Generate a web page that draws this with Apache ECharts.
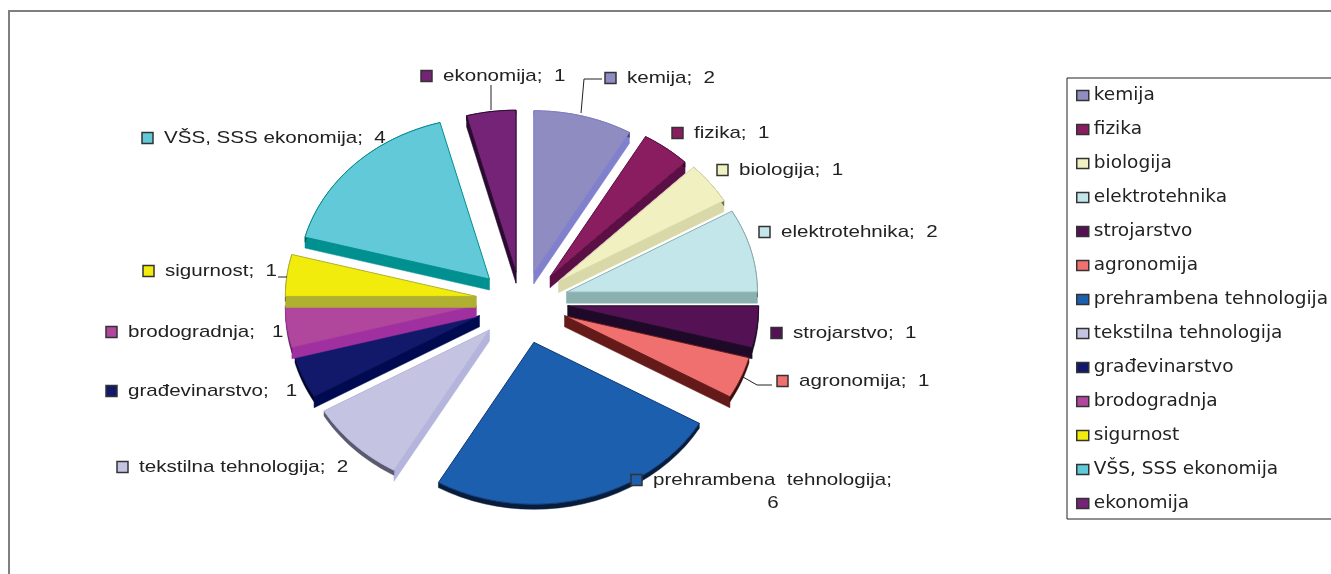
<!DOCTYPE html>
<html><head><meta charset="utf-8">
<style>html,body{margin:0;padding:0;background:#fff;overflow:hidden}#c{width:1331px;height:574px}</style>
<script src="https://cdn.jsdelivr.net/npm/echarts@6/dist/echarts.min.js"></script>
</head><body><div id="c"></div>
<script>
const categories=['kemija','fizika','biologija','elektrotehnika','strojarstvo','agronomija','prehrambena tehnologija','tekstilna tehnologija','građevinarstvo','brodogradnja','sigurnost','VŠS, SSS ekonomija','ekonomija'];
const values=[2,1,1,2,1,1,6,2,1,1,1,4,1];
const topColors=['#8f8cc2','#8a1c60','#f0f0c0','#c2e6ea','#541254','#f07070','#1c5fae','#c4c4e2','#12196b','#b0479c','#f2ec0c','#62c9d9','#752377'];
const rimColors=['#8080cc','#5c0f45','#d8d8a8','#8ab0b0','#1e0a28','#651a1a','#0f3a78','#b4b4dc','#000a50','#a030a0','#b0b030','#009090','#2a0a30'];
const labelTexts=['kemija;  2','fizika;  1','biologija;  1','elektrotehnika;  2','strojarstvo;  1','agronomija;  1','prehrambena  tehnologija;','tekstilna tehnologija;  2','građevinarstvo;   1','brodogradnja;   1','sigurnost;  1','VŠS, SSS ekonomija;  4','ekonomija;  1'];

/* layout (not data) */
const cx=522, cy=308, ex=46, ey=36, sideLift=7, rx=191, ry=162, edgeDepth=11, arcDepth=5, labelStretch=1.21;
const labelPos=[[605,78],[672,133],[717,170],[759,232],[771,333],[777,381],[631,480],[117,467],[106,391],[106,332],[143,271],[142,138],[421,76]];
const leaders=[[[602,79],[584,79],[581,113]],[[491,85],[491,110]],[[278,277],[287,277]],[[743,377],[757,385],[772,385]]];

const total=values.reduce((a,b)=>a+b,0);
const rad=d=>d*Math.PI/180;
const darken=(hex,f)=>'rgb('+[1,3,5].map(k=>Math.round(parseInt(hex.substr(k,2),16)*f)).join(',')+')';
function slice(api,i){
  const before=values.slice(0,i).reduce((a,b)=>a+b,0);
  const a0=before/total*360, a1=(before+api.value(0))/total*360, b=rad((a0+a1)/2);
  const s=Math.sin(b);
  const tx=cx+ex*s, ty=cy-ey*Math.cos(b)-sideLift*s*s;
  const arc=[];
  for(let k=0;k<=24;k++){const a=rad(a0+(a1-a0)*k/24);arc.push([tx+rx*Math.sin(a),ty-ry*Math.cos(a)]);}
  const down=(p,d)=>[p[0],p[1]+d];
  const rimStyle={fill:rimColors[i],stroke:rimColors[i],lineWidth:.5};
  const dark=darken(rimColors[i],0.5);
  const first=arc[0], last=arc[arc.length-1], tip=[tx,ty];
  /* a straight edge shows its side wall only when the point just below it lies outside the slice */
  const showsWall=deg=>{
    const a=rad(deg), u=0.5*Math.sin(a), v=-0.5*Math.cos(a)+2/ry;
    let t=Math.atan2(u,-v)*180/Math.PI; if(t<0)t+=360;
    return !(t>a0 && t<a1);
  };
  const kids=[];
  if(showsWall(a0)) kids.push({type:'polygon',shape:{points:[tip,first,down(first,edgeDepth),down(tip,edgeDepth)]},style:rimStyle});
  if(showsWall(a1%360)) kids.push({type:'polygon',shape:{points:[tip,last,down(last,edgeDepth),down(tip,edgeDepth)]},style:rimStyle});
  kids.push({type:'polygon',shape:{points:arc.concat(arc.map(p=>down(p,arcDepth)).reverse())},style:{fill:dark,stroke:dark,lineWidth:.5}});
  kids.push({type:'polygon',shape:{points:[tip].concat(arc)},style:{fill:topColors[i],stroke:rimColors[i],lineWidth:1}});
  return {type:'group',silent:true,children:kids};
}
const labelFont={fontFamily:'Liberation Sans',fontSize:17,fill:'#222'};
const graphics=[{type:'rect',shape:{x:9,y:11,width:1500,height:800},style:{fill:'none',stroke:'#7f7f7f',lineWidth:2},silent:true}];
leaders.forEach(p=>graphics.push({type:'polyline',shape:{points:p},style:{fill:'none',stroke:'#222',lineWidth:1},z:5}));
categories.forEach((c,i)=>{
  const p=labelPos[i];
  graphics.push({type:'rect',shape:{x:p[0],y:p[1]-5.5,width:11,height:11},style:{fill:topColors[i],stroke:'#333',lineWidth:1.5},z:6});
  graphics.push({type:'text',x:p[0]+22,y:p[1],scaleX:labelStretch,style:Object.assign({text:labelTexts[i],verticalAlign:'middle'},labelFont),z:6});
});
graphics.push({type:'text',x:773,y:503,scaleX:labelStretch,style:Object.assign({text:String(values[6]),align:'center',verticalAlign:'middle'},labelFont),z:6});

const chart=echarts.init(document.getElementById('c'));
chart.setOption({
  animation:false,
  backgroundColor:'#fff',
  legend:{orient:'vertical',left:1067,top:78,padding:[8,30,6,9],itemWidth:12,itemHeight:10,itemGap:15,
    backgroundColor:'#fff',borderColor:'#222',borderWidth:1,icon:'rect',
    textStyle:{fontFamily:'DejaVu Sans',fontSize:18.5,color:'#222'},
    data:categories.map((c,i)=>({name:c,itemStyle:{color:topColors[i],borderColor:'#333',borderWidth:1.5}}))},
  graphic:graphics,
  series:categories.map((c,i)=>({type:'custom',name:c,coordinateSystem:'none',silent:true,clip:false,
    itemStyle:{color:topColors[i]},data:[[values[i]]],renderItem:(p,api)=>slice(api,i)}))
});
</script></body></html>
